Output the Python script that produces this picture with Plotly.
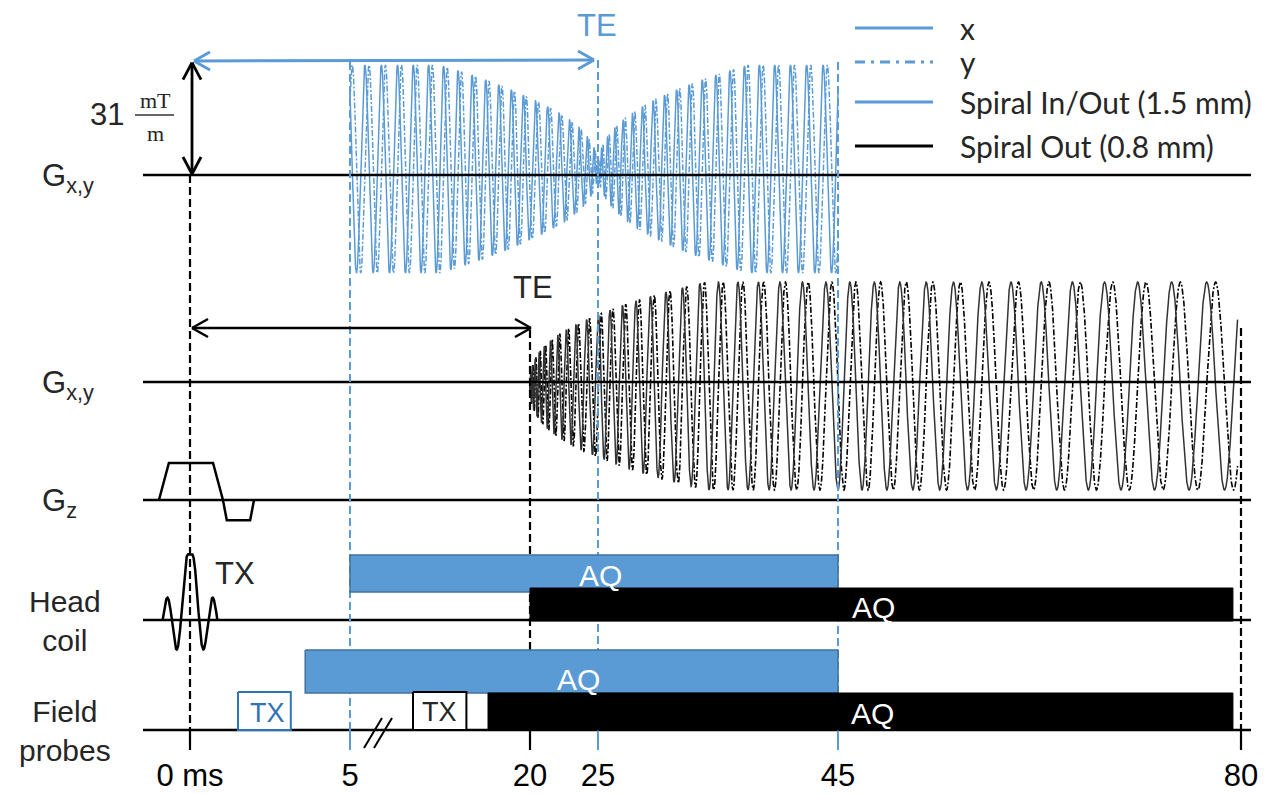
import numpy as np
import plotly.graph_objects as go

# ------------------------------------------------------------------
# DATA (times in ms, gradient in mT/m)
# ------------------------------------------------------------------
TICK_MS = [0, 5, 20, 25, 45, 80]
TICK_LABELS = ["0 ms", "5", "20", "25", "45", "80"]
# the time axis is schematic / broken: axis position of each tick time
TICK_AXIS = [190, 350, 530, 598, 838, 1241]

TE_INOUT = 25          # Spiral In/Out echo time
TE_OUT = 20            # Spiral Out echo time
GMAX = 31              # mT/m

# Spiral In/Out (1.5 mm) readout
INOUT_WINDOW = [5, 45]
INOUT_FULL_AMP_AFTER = 12.5     # ms from TE until full amplitude
INOUT_ENV_POWER = 0.42
INOUT_TURN_COEF = 2.37          # turns = coef * |t-TE|^power
INOUT_TURN_POWER = 0.71

# Spiral Out (0.8 mm) readout
OUT_WINDOW = [20, 79.7]
OUT_FULL_AMP_AFTER = 14.0
OUT_ENV_POWER = 0.37
OUT_TURN_COEF = 4.9
OUT_TURN_POWER = 0.5

# slice-select gradient (Gz), relative level
GZ_MS = [-0.97, -0.66, 0.72, 1.03, 1.15, 1.88, 2.0]
GZ_LEVEL = [0, 1, 1, 0, -0.55, -0.55, 0]

# RF pulse (sinc, 3 zero crossings per side)
RF_CENTER = 0.0
RF_LOBE_MS = 0.285
RF_ZEROS = 3

# head-coil and field-probe events [start, end] in ms
HEAD_AQ_INOUT = [5, 45]
HEAD_AQ_OUT = [20, 79.3]
PROBE_TX_INOUT = [1.5, 3.15]
PROBE_AQ_INOUT = [3.6, 45]
PROBE_TX_OUT = [10.25, 14.7]
PROBE_AQ_OUT = [16.5, 79.3]

LEGEND_LABELS = ["x", "y", "Spiral In/Out (1.5 mm)", "Spiral Out (0.8 mm)"]

# ------------------------------------------------------------------
# STYLE / LAYOUT
# ------------------------------------------------------------------
BLUE = "#5B9BD5"
BLUE_DARK = "#41719C"
BLUE_TX = "#2E75B6"
BLACK = "#000000"
TXT = "#262626"
FONT = "Liberation Sans"

PAGE_OFF = 8                 # default page margin of the html body
W, H = 1266 - PAGE_OFF, 794 - PAGE_OFF
PLOT_BOTTOM = 750            # page y of the bottom of the drawing area
ROW_G1, ROW_G2, ROW_GZ, ROW_HEAD, ROW_PROBE = 175, 382, 500, 620, 730
WAVE1_CENTER, WAVE2_CENTER = 169, 386
AMP_PX = 104          # pixels for GMAX
GZ_PX = 37
RF_PX = 65
LINE_X0, LINE_X1 = 143, 1251


def tx(t):
    """time (ms) -> position on the schematic (broken) time axis"""
    t = np.asarray(t, dtype=float)
    x = np.interp(t, TICK_MS, TICK_AXIS)
    s0 = (TICK_AXIS[1] - TICK_AXIS[0]) / (TICK_MS[1] - TICK_MS[0])
    s1 = (TICK_AXIS[-1] - TICK_AXIS[-2]) / (TICK_MS[-1] - TICK_MS[-2])
    x = np.where(t < TICK_MS[0], TICK_AXIS[0] + (t - TICK_MS[0]) * s0, x)
    x = np.where(t > TICK_MS[-1], TICK_AXIS[-1] + (t - TICK_MS[-1]) * s1, x)
    return x


def gy(center, g):
    """gradient value (mT/m) -> vertical position for a row"""
    return center - np.asarray(g) * AMP_PX / GMAX


fig = go.Figure()

# ---------------- Spiral In/Out gradients ----------------
t1 = np.linspace(INOUT_WINDOW[0], INOUT_WINDOW[1], 12000)
d1 = np.abs(t1 - TE_INOUT)
env1 = np.minimum(1.0, (d1 / INOUT_FULL_AMP_AFTER) ** INOUT_ENV_POWER)
th1 = INOUT_TURN_COEF * d1 ** INOUT_TURN_POWER
sg1 = np.where(t1 < TE_INOUT, -1.0, 1.0)
gx1 = GMAX * env1 * np.cos(2 * np.pi * th1)
gy1 = GMAX * env1 * np.sin(2 * np.pi * th1) * sg1

fig.add_trace(go.Scatter(x=tx(t1), y=gy(WAVE1_CENTER, gy1), mode="lines",
                         line=dict(color=BLUE, width=1.5, dash="6px,2px,2px,2px"),
                         hoverinfo="skip", showlegend=False))
fig.add_trace(go.Scatter(x=tx(t1), y=gy(WAVE1_CENTER, gx1), mode="lines",
                         line=dict(color=BLUE, width=1.5),
                         hoverinfo="skip", showlegend=False))

# ---------------- Spiral Out gradients ----------------
t2 = np.linspace(OUT_WINDOW[0], OUT_WINDOW[1], 20000)
d2 = t2 - TE_OUT
env2 = np.minimum(1.0, (d2 / OUT_FULL_AMP_AFTER) ** OUT_ENV_POWER)
th2 = OUT_TURN_COEF * d2 ** OUT_TURN_POWER
gx2 = GMAX * env2 * np.cos(2 * np.pi * th2)
gy2 = GMAX * env2 * np.sin(2 * np.pi * th2)
fig.add_trace(go.Scatter(x=tx(t2), y=gy(WAVE2_CENTER, gy2), mode="lines",
                         line=dict(color=BLACK, width=1.6, dash="6px,2px,2px,2px"),
                         hoverinfo="skip", showlegend=False))
fig.add_trace(go.Scatter(x=tx(t2), y=gy(WAVE2_CENTER, gx2), mode="lines",
                         line=dict(color="#333333", width=1.5),
                         hoverinfo="skip", showlegend=False))

# ---------------- baselines ----------------
for row in [ROW_G1, ROW_G2, ROW_GZ, ROW_HEAD, ROW_PROBE]:
    fig.add_trace(go.Scatter(x=[LINE_X0, LINE_X1], y=[row, row], mode="lines",
                             line=dict(color=BLACK, width=2.5),
                             hoverinfo="skip", showlegend=False))

# ---------------- vertical timing lines ----------------
def vline(t, y0, color, width):
    x = float(tx(t))
    fig.add_trace(go.Scatter(x=[x, x], y=[y0, ROW_PROBE], mode="lines",
                             line=dict(color=color, width=width, dash="8px,4px"),
                             hoverinfo="skip", showlegend=False))
    fig.add_trace(go.Scatter(x=[x, x], y=[ROW_PROBE, PLOT_BOTTOM], mode="lines",
                             line=dict(color=color, width=width),
                             hoverinfo="skip", showlegend=False))

vline(0, ROW_G1, BLACK, 2.2)
vline(INOUT_WINDOW[0], 62, BLUE, 2)
vline(TE_INOUT, 60, BLUE, 2)
vline(INOUT_WINDOW[1], 62, BLUE, 2)
vline(TE_OUT, 330, BLACK, 2.2)
vline(TICK_MS[-1], 328, BLACK, 2.2)

# ---------------- Gz ----------------
fig.add_trace(go.Scatter(x=tx(GZ_MS), y=ROW_GZ - np.array(GZ_LEVEL) * GZ_PX, mode="lines",
                         line=dict(color=BLACK, width=2.5), hoverinfo="skip", showlegend=False))

# ---------------- RF pulse ----------------
u = np.linspace(-RF_ZEROS, RF_ZEROS, 600)
rf = np.sinc(u) * (1 + (np.pi * u) ** 2) ** 0.24
fig.add_trace(go.Scatter(x=tx(RF_CENTER + u * RF_LOBE_MS), y=ROW_HEAD - rf * RF_PX, mode="lines",
                         line=dict(color=BLACK, width=2.5), hoverinfo="skip", showlegend=False))

# ---------------- event boxes ----------------
def box(win, y0, y1, fill, lc, lw):
    x0, x1 = float(tx(win[0])), float(tx(win[1]))
    fig.add_trace(go.Scatter(x=[x0, x1, x1, x0, x0], y=[y0, y0, y1, y1, y0], mode="lines",
                             fill="toself", fillcolor=fill, line=dict(color=lc, width=lw),
                             hoverinfo="skip", showlegend=False))
    return (x0 + x1) / 2

c_head_in = box(HEAD_AQ_INOUT, 555, 592, BLUE, BLUE_DARK, 1.5)
c_head_out = box(HEAD_AQ_OUT, 588, 621, BLACK, BLACK, 1)
c_probe_in = box(PROBE_AQ_INOUT, 650, 693, BLUE, BLUE_DARK, 1.5)
c_ptx_in = box(PROBE_TX_INOUT, 692, ROW_PROBE, "white", BLUE_TX, 2)
c_ptx_out = box(PROBE_TX_OUT, 692, ROW_PROBE, "white", BLACK, 2)
c_probe_out = box(PROBE_AQ_OUT, 693, ROW_PROBE, BLACK, BLACK, 1)

# break marks on the field-probe line
for dx in [0, 10]:
    fig.add_trace(go.Scatter(x=[364 + dx, 382 + dx], y=[748, 718], mode="lines",
                             line=dict(color=BLACK, width=2), hoverinfo="skip", showlegend=False))

# ---------------- arrows ----------------
shapes = []


def seg(x0, y0, x1, y1, color, width):
    shapes.append(dict(type="line", xref="x", yref="y", x0=x0, y0=y0, x1=x1, y1=y1,
                       line=dict(color=color, width=width), layer="above"))


def arrow(x0, y0, x1, y1, color, width, hl=16, hw=9):
    seg(x0, y0, x1, y1, color, width)
    v = np.array([x1 - x0, y1 - y0], float)
    v /= np.hypot(*v)
    n = np.array([-v[1], v[0]])
    for (px, py), s in [((x0, y0), 1), ((x1, y1), -1)]:
        for k in (1, -1):
            ex = px + s * v[0] * hl + k * n[0] * hw
            ey = py + s * v[1] * hl + k * n[1] * hw
            seg(px, py, ex, ey, color, width)


x_zero = float(tx(0)) + 2
arrow(x_zero + 2, 61, float(tx(TE_INOUT)) - 4, 60, BLUE, 3)
arrow(x_zero, 328, float(tx(TE_OUT)) + 1, 328, BLACK, 2.5)
arrow(x_zero, float(gy(ROW_G1, GMAX * 1.08)), x_zero, ROW_G1 - 1, BLACK, 2.8, hl=17, hw=9)
# fraction bar of mT/m
seg(135, 115, 174, 115, "#333333", 1.6)

# legend symbols
LEG_Y = [28, 62, 102, 146]
LEG_COLORS = [BLUE, BLUE, BLUE, BLACK]
LEG_DASH = ["solid", "10px,6px,3px,6px", "solid", "solid"]
for yy, c, dsh in zip(LEG_Y, LEG_COLORS, LEG_DASH):
    shapes.append(dict(type="line", xref="x", yref="y", x0=855, x1=933, y0=yy, y1=yy,
                       line=dict(color=c, width=3, dash=dsh)))

# ---------------- text ----------------
ann = []


def text(x, y, s, size, color=TXT, font=FONT, xa="center", ya="middle"):
    ann.append(dict(x=x, y=y, xref="x", yref="y", text=s, showarrow=False,
                    font=dict(family=font, size=size, color=color),
                    xanchor=xa, yanchor=ya))


text(float(tx(TE_INOUT)) - 1, 25, "TE", 31, BLUE)
text(float(tx(TE_OUT)) + 3, 287, "TE", 31, TXT)
text(107, 114, "31", 31)
text(155, 100, "mT", 22, TXT, "Liberation Serif")
text(155, 133, "m", 22, TXT, "Liberation Serif")
text(40, 178, "G<sub>x,y</sub>", 31, TXT, xa="left")
text(40, 385, "G<sub>x,y</sub>", 31, TXT, xa="left")
text(40, 503, "G<sub>z</sub>", 31, TXT, xa="left")
text(65, 621, "Head<br>coil", 30)
text(65, 731, "Field<br>probes", 30)
text(235, 573, "TX", 31)
text(c_ptx_in + 3, 713, "TX", 27, BLUE_TX)
text(c_ptx_out, 712, "TX", 27, TXT)
text(c_head_in + 6, 575, "AQ", 30, "white")
text(873, 607, "AQ", 30, "white")
text(c_probe_in + 7, 679, "AQ", 30, "white")
text(872, 713, "AQ", 30, "white")
for yy, lab in zip(LEG_Y, LEGEND_LABELS):
    text(958, yy, lab, 30, TXT, "Lato", xa="left")

fig.update_layout(
    width=W, height=H,
    margin=dict(l=0, r=0, t=0, b=H - (PLOT_BOTTOM - PAGE_OFF)),
    paper_bgcolor="white", plot_bgcolor="white",
    showlegend=False,
    shapes=shapes, annotations=ann,
    xaxis=dict(range=[PAGE_OFF, PAGE_OFF + W], showgrid=False, zeroline=False, showline=False,
               tickvals=tx(TICK_MS).tolist(), ticktext=TICK_LABELS, ticks="",
               tickfont=dict(family=FONT, size=31, color=BLACK), ticklabelstandoff=4),
    yaxis=dict(range=[PLOT_BOTTOM, PAGE_OFF], showgrid=False, zeroline=False, showline=False,
               showticklabels=False, ticks=""),
)

fig.write_html("out.html")
